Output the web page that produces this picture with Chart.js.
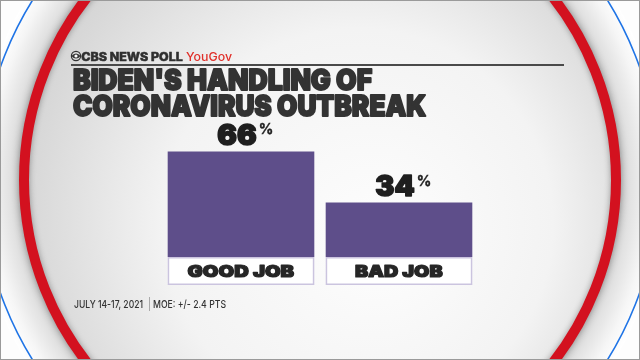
<!DOCTYPE html>
<html>
<head>
<meta charset="utf-8">
<script src="https://cdn.jsdelivr.net/npm/chart.js@4.4.7/dist/chart.umd.min.js"></script>
<style>
  html, body { margin: 0; padding: 0; background: #fff; }
  #wrap { width: 640px; height: 360px; }
</style>
</head>
<body>
<div id="wrap"><canvas id="pollChart" width="640" height="360"></canvas></div>
<script>
// poll data
const categories = ['GOOD JOB', 'BAD JOB'];
const values = [66, 34];
const valueSuffix = '%';
const titleLines = ["BIDEN'S HANDLING OF", 'CORONAVIRUS OUTBREAK'];
const pollSource = 'CBS NEWS POLL';
const pollPartner = 'YouGov';
const footnotes = ['JULY 14-17, 2021', 'MOE: +/- 2.4 PTS'];

const HEAVY = '"Inter", "Lato", "Roboto", sans-serif';
const TEXT_DARK = '#2f2f2f';

// draw text at a given size, stretched to a target width; optional stroke to fatten it
function fitText(ctx, text, x, y, size, weight, targetW, fatten) {
  ctx.font = weight + ' ' + size + 'px ' + HEAVY;
  const w = ctx.measureText(text).width + (fatten || 0);
  ctx.save();
  ctx.translate(x + (fatten || 0) / 2, y);
  ctx.scale(targetW / w, 1);
  ctx.fillText(text, 0, 0);
  if (fatten) {
    ctx.strokeStyle = ctx.fillStyle;
    ctx.lineWidth = fatten;
    ctx.lineJoin = 'round';
    ctx.strokeText(text, 0, 0);
  }
  ctx.restore();
}

const backdrop = {
  id: 'backdrop',
  beforeDraw(chart) {
    const ctx = chart.ctx;
    const cx = 320, cy = 180;
    ctx.save();
    ctx.fillStyle = '#fdfdfd';
    ctx.fillRect(0, 0, 640, 360);

    // grey shading outside the red ring
    let g = ctx.createRadialGradient(cx, cy, 296, cx, cy, 345);
    g.addColorStop(0, '#c4c4c4');
    g.addColorStop(0.3, '#e2e2e2');
    g.addColorStop(0.7, '#f6f6f6');
    g.addColorStop(1, '#ffffff');
    ctx.fillStyle = g;
    ctx.beginPath();
    ctx.arc(cx, cy, 345, 0, Math.PI * 2);
    ctx.fill();

    // thin blue ring
    ctx.strokeStyle = '#1f74e6';
    ctx.lineWidth = 1.6;
    ctx.beginPath();
    ctx.arc(cx, cy, 339, 0, Math.PI * 2);
    ctx.stroke();

    // inner disc
    g = ctx.createRadialGradient(380, 240, 30, 340, 210, 330);
    g.addColorStop(0, '#fcfcfc');
    g.addColorStop(0.55, '#f3f3f3');
    g.addColorStop(1, '#d4d4d4');
    ctx.fillStyle = g;
    ctx.beginPath();
    ctx.arc(cx, cy, 292, 0, Math.PI * 2);
    ctx.fill();

    // red ring
    ctx.shadowColor = 'rgba(0,0,0,0.35)';
    ctx.shadowBlur = 6;
    ctx.strokeStyle = '#d3111f';
    ctx.lineWidth = 10;
    ctx.beginPath();
    ctx.arc(cx, cy, 296, 0, Math.PI * 2);
    ctx.stroke();
    ctx.restore();

    ctx.save();
    ctx.strokeStyle = '#9a9a9a';
    ctx.lineWidth = 1;
    ctx.strokeRect(0.5, 0.5, 639, 359);
    ctx.restore();
  }
};

const barLabels = {
  id: 'barLabels',
  afterDatasetsDraw(chart) {
    const ctx = chart.ctx;
    const meta = chart.getDatasetMeta(0);
    ctx.save();
    ctx.textBaseline = 'alphabetic';
    ctx.textAlign = 'left';
    meta.data.forEach((el, i) => {
      const left = el.x - el.width / 2;
      // category box under the bar
      ctx.fillStyle = '#ffffff';
      ctx.fillRect(left, el.base, el.width, 27);
      ctx.strokeStyle = '#cbc4df';
      ctx.lineWidth = 1.5;
      ctx.strokeRect(left + 0.75, el.base + 0.75, el.width - 1.5, 26.5);
      ctx.fillStyle = '#262626';
      ctx.font = '900 16px ' + HEAVY;
      const lw = i === 0 ? 108 : 89;
      fitText(ctx, categories[i], el.x - lw / 2, el.base + 20, 16.5, 900, lw, 1.2);

      // value with small percent sign
      ctx.fillStyle = '#1f1f1f';
      const num = String(values[i]);
      const nw = 41;
      const nx = el.x - 4 - nw / 2;
      fitText(ctx, num, nx, el.y - 6.5, 28, 900, nw, 1.6);
      fitText(ctx, valueSuffix, nx + nw + 1, el.y - 17, 14, 700, 15, 0.4);
    });
    ctx.restore();
  }
};

const header = {
  id: 'header',
  afterDraw(chart) {
    const ctx = chart.ctx;
    ctx.save();
    ctx.textAlign = 'left';
    ctx.textBaseline = 'alphabetic';

    // eye mark
    ctx.strokeStyle = '#333';
    ctx.lineWidth = 1.2;
    ctx.beginPath();
    ctx.arc(76, 56, 4.6, 0, Math.PI * 2);
    ctx.stroke();
    ctx.fillStyle = '#333';
    ctx.beginPath();
    ctx.moveTo(71.4, 56);
    ctx.quadraticCurveTo(76, 51, 80.6, 56);
    ctx.quadraticCurveTo(76, 61, 71.4, 56);
    ctx.fill();
    ctx.fillStyle = '#fff';
    ctx.beginPath();
    ctx.arc(76, 56, 1.6, 0, Math.PI * 2);
    ctx.fill();

    ctx.fillStyle = TEXT_DARK;
    fitText(ctx, pollSource, 81, 60.5, 11.5, 800, 102, 0.5);
    ctx.fillStyle = '#e0302a';
    fitText(ctx, pollPartner, 186, 60.5, 11.5, 500, 46);

    // rule under the source line
    ctx.strokeStyle = '#4a4a4a';
    ctx.lineWidth = 2;
    ctx.beginPath();
    ctx.moveTo(71, 65);
    ctx.lineTo(564, 65);
    ctx.stroke();

    ctx.fillStyle = '#333333';
    fitText(ctx, titleLines[0], 72, 90, 28, 900, 301, 1.8);
    fitText(ctx, titleLines[1], 72, 116, 28, 900, 355, 1.8);

    // footer
    ctx.fillStyle = '#333';
    fitText(ctx, footnotes[0], 74, 308, 11, 500, 69);
    ctx.strokeStyle = '#aaa';
    ctx.lineWidth = 1;
    ctx.beginPath();
    ctx.moveTo(149.5, 297);
    ctx.lineTo(149.5, 311);
    ctx.stroke();
    fitText(ctx, footnotes[1], 153, 308, 11, 500, 73);
    ctx.restore();
  }
};

new Chart(document.getElementById('pollChart'), {
  type: 'bar',
  data: {
    labels: categories,
    datasets: [{
      data: values,
      backgroundColor: '#5e4e8a',
      borderWidth: 0,
      barPercentage: 0.928,
      categoryPercentage: 1
    }]
  },
  options: {
    responsive: false,
    animation: false,
    devicePixelRatio: 1,
    layout: { padding: { left: 162, right: 162, top: 97, bottom: 103 } },
    scales: {
      x: { display: false },
      y: { display: false, min: 0, max: 100 }
    },
    plugins: {
      legend: { display: false },
      tooltip: { enabled: false }
    }
  },
  plugins: [backdrop, barLabels, header]
});
</script>
</body>
</html>
